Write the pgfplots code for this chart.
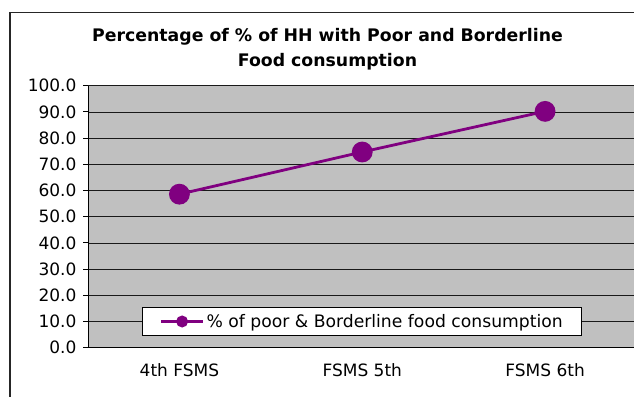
\documentclass[border=0pt]{standalone}
\usepackage{pgfplots}
\pgfplotsset{compat=1.18}
\usepackage{fontspec}
\setmainfont{DejaVu Sans}
\definecolor{plotgray}{HTML}{C0C0C0}
\definecolor{edgegray}{HTML}{A0A0A0}
\definecolor{fcpurple}{HTML}{800080}

\begin{document}
\begin{tikzpicture}
\useasboundingbox (0pt,0pt) rectangle (634pt,396pt);
\clip (0pt,0pt) rectangle (634pt,396pt);
% chart area frame
\draw[line width=1.6pt,black!85] (10pt,-20pt) -- (10pt,383.3pt) -- (700pt,383.3pt);
% title
\node[font=\fontsize{17.3}{25}\selectfont\bfseries,align=center] at (327.5pt,347pt)
  {Percentage of \% of HH with Poor and Borderline\\Food consumption};
\begin{axis}[
  at={(88pt,48.3pt)}, anchor=south west,
  scale only axis, width=548.5pt, height=262pt,
  xmin=-0.5, xmax=2.5, ymin=0, ymax=100,
  axis background/.style={fill=plotgray, draw=edgegray},
  axis x line*=bottom, axis y line*=left,
  axis line style={black, line width=0.8pt, -},
  xtick={0,1,2},
  xticklabels={4th FSMS, FSMS 5th, FSMS 6th},
  x tick style={draw=none},
  extra x ticks={0.5,1.5},
  extra x tick labels={},
  extra x tick style={tick style={draw=black, line width=0.8pt}, major tick length=6pt},
  ytick={0,10,...,100},
  y tick style={black, line width=0.8pt},
  tick align=outside, major tick length=5pt,
  ymajorgrids,
  grid style={black!90, line width=0.6pt},
  y tick label style={/pgf/number format/fixed, /pgf/number format/fixed zerofill,
    /pgf/number format/precision=1, /pgf/number format/assume math mode=true, xshift=-3pt},
  every tick label/.append style={font=\fontsize{17}{18}\selectfont},
  x tick label style={yshift=-7pt},
  legend style={at={(axis cs:1,10)}, anchor=center, draw=black, line width=0.6pt, fill=white,
    font=\fontsize{17.2}{18}\selectfont, inner xsep=17pt, inner ysep=5pt},
  legend cell align=left,
  legend image code/.code={
    \draw[#1, mark repeat=2, mark phase=2, mark size=4.5pt,
      mark options={fill=fcpurple, draw=none}] plot coordinates {(0pt,0pt) (21pt,0pt) (42pt,0pt)};
  },
]
\addplot[color=fcpurple, line width=2.8pt, mark=*, mark size=9pt,
  mark options={fill=fcpurple, draw=none}]
  coordinates {(0,58.6) (1,74.7) (2,90.2)};
\addlegendentry{\% of poor \& Borderline food consumption}
\end{axis}
\end{tikzpicture}
\end{document}
